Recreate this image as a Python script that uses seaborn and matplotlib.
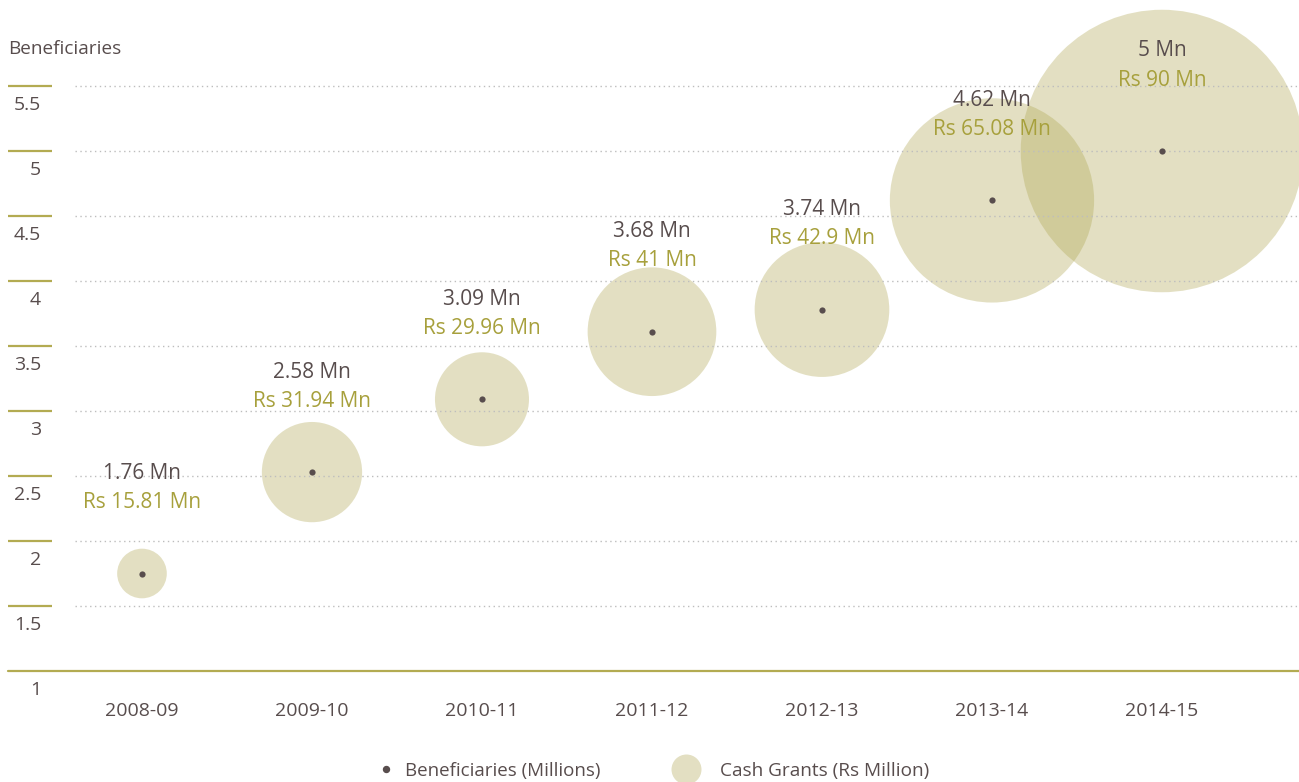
import matplotlib
matplotlib.use("Agg")
import matplotlib.pyplot as plt
from matplotlib.lines import Line2D
from matplotlib.transforms import offset_copy
import pandas as pd
import seaborn as sns

# data
years = ['2008-09', '2009-10', '2010-11', '2011-12', '2012-13', '2013-14', '2014-15']
beneficiaries = [1.75, 2.53, 3.09, 3.61, 3.78, 4.62, 5.0]   # dot positions (millions)
benef_labels = ['1.76', '2.58', '3.09', '3.68', '3.74', '4.62', '5']
cash_grants = [15.81, 31.94, 29.96, 41, 42.9, 65.08, 90]    # Rs million
cash_labels = ['15.81', '31.94', '29.96', '41', '42.9', '65.08', '90']
y_ticks = [1, 1.5, 2, 2.5, 3, 3.5, 4, 4.5, 5, 5.5]

df = pd.DataFrame({'year': years, 'benef': beneficiaries, 'cash': cash_grants})

DARK = '#584d4d'
OLIVE = '#a7a03c'
LINE_OLIVE = '#b3ab52'
BUBBLE = '#afa651'

sns.set_theme(style='white')
plt.rcParams['font.family'] = ['Open Sans', 'DejaVu Sans']

fig = plt.figure(figsize=(12.99, 7.82), dpi=100)
ax = fig.add_axes([75 / 1299, 111 / 782, 1 - 75 / 1299, 671 / 782])

# bubble radius roughly proportional to the grant value
sizes = {v: (2.26 * v) ** 2 for v in cash_grants}
sns.scatterplot(data=df, x='year', y='benef', size='cash', sizes=sizes,
                color=BUBBLE, alpha=0.35, linewidth=0, legend=False, ax=ax, zorder=1)
sns.scatterplot(data=df, x='year', y='benef', color=DARK, s=20, linewidth=0,
                legend=False, ax=ax, zorder=4)

ax.set_xlim(-0.394, 6.806)
ax.set_ylim(1, 1 + 671 / 130)
ax.set_yticks(y_ticks)
ax.set_yticklabels([])
ax.set_axisbelow(False)
ax.yaxis.grid(True, linestyle=(0, (1, 2.5)), color='#bdbdbd', linewidth=1, zorder=2)
ax.xaxis.grid(False)
for s in ax.spines.values():
    s.set_visible(False)
ax.tick_params(axis='both', length=0)
ax.tick_params(axis='x', pad=22, labelsize=14, labelcolor=DARK)
ax.set_xlabel('')
ax.set_ylabel('')

# baseline and left tick marks
ax.axhline(1, xmin=-0.0547, xmax=1, color=LINE_OLIVE, lw=1.6, clip_on=False, zorder=3)
ytr = ax.get_yaxis_transform()
ax.hlines(y_ticks[1:], -0.0547, -0.0188, transform=ytr, color=LINE_OLIVE, lw=1.6, clip_on=False)
lab_tr = offset_copy(ytr, fig=fig, y=-19, units='dots')
for t in y_ticks:
    ax.text(-0.0278, t, f'{t:g}', transform=lab_tr, ha='right', va='center',
            fontsize=14, color=DARK, clip_on=False)

# value labels
for i, (b, bl, cl) in enumerate(zip(beneficiaries, benef_labels, cash_labels)):
    ax.annotate(f'{bl} Mn', (i, b), xytext=(0, 72), textcoords='offset points',
                ha='center', va='center', fontsize=15, color=DARK, zorder=5)
    ax.annotate(f'Rs {cl} Mn', (i, b), xytext=(0, 51), textcoords='offset points',
                ha='center', va='center', fontsize=15, color=OLIVE, zorder=5)

fig.text(8 / 1299, 1 - 49 / 782, 'Beneficiaries', fontsize=13.7, color=DARK,
         ha='left', va='center')

# legend
h1 = Line2D([], [], marker='o', ls='', color=DARK, ms=4.3)
h2 = Line2D([], [], marker='o', ls='', color=BUBBLE, alpha=0.35, ms=21.6, mew=0)
fig.legend([h1], ['Beneficiaries (Millions)'], loc='center left',
           bbox_to_anchor=(0.2899, 1 - 771 / 782), frameon=False, fontsize=13.5,
           handlelength=1, handletextpad=0.49, borderpad=0, borderaxespad=0,
           labelcolor=DARK)
fig.legend([h2], ['Cash Grants (Rs Million)'], loc='center left',
           bbox_to_anchor=(0.5136, 1 - 771 / 782), frameon=False, fontsize=13.7,
           handlelength=2, handletextpad=0.79, borderpad=0, borderaxespad=0,
           labelcolor=DARK)

fig.savefig('out.png', dpi=100)
